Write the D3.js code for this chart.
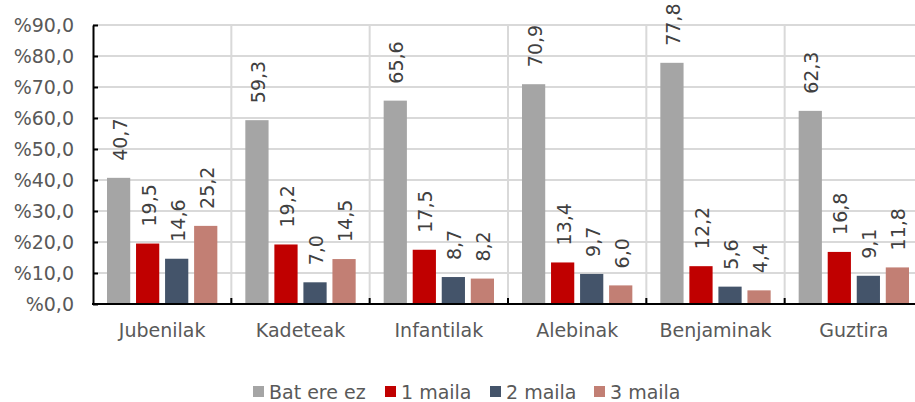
<!DOCTYPE html>
<html>
<head>
<meta charset="utf-8">
<script src="https://cdn.jsdelivr.net/npm/d3@7"></script>
<style>
  body { margin: 0; background: #fff; }
  svg { display: block; font-family: "DejaVu Sans", Verdana, sans-serif; }
</style>
</head>
<body>
<div id="chart"></div>
<script>
var categories = ["Jubenilak", "Kadeteak", "Infantilak", "Alebinak", "Benjaminak", "Guztira"];
var seriesNames = ["Bat ere ez", "1 maila", "2 maila", "3 maila"];
var batEreEz = [40.7, 59.3, 65.6, 70.9, 77.8, 62.3];
var maila1 = [19.5, 19.2, 17.5, 13.4, 12.2, 16.8];
var maila2 = [14.6, 7.0, 8.7, 9.7, 5.6, 9.1];
var maila3 = [25.2, 14.5, 8.2, 6.0, 4.4, 11.8];
var yTicks = [0, 10, 20, 30, 40, 50, 60, 70, 80, 90];
var colors = ["#A5A5A5", "#C00000", "#44546A", "#C27F74"];

var width = 915, height = 402;
var plotLeft = 93, plotRight = 923, plotTop = 25, plotBottom = 304;

var svg = d3.select("#chart").append("svg")
  .attr("width", width)
  .attr("height", height);

var allSeries = [batEreEz, maila1, maila2, maila3];
var rows = categories.map(function(c, i){
  return { cat: c, vals: allSeries.map(function(s, j){ return { key: seriesNames[j], v: s[i], idx: j }; }) };
});

var x0 = d3.scaleBand().domain(categories).range([plotLeft, plotRight]).padding(0);
var x1 = d3.scaleBand().domain(seriesNames).range([14, x0.bandwidth() - 14]).paddingInner(0.2);
var y = d3.scaleLinear().domain([0, 90]).range([plotBottom, plotTop]);

var fmt = function(v){ return v.toFixed(1).replace(".", ","); };

// grid
svg.append("g").selectAll("line")
  .data(yTicks.slice(1))
  .enter().append("line")
  .attr("x1", plotLeft).attr("x2", plotRight)
  .attr("y1", function(d){ return y(d); }).attr("y2", function(d){ return y(d); })
  .attr("stroke", "#D9D9D9").attr("stroke-width", 2);

svg.append("g").selectAll("line")
  .data(categories.slice(1))
  .enter().append("line")
  .attr("x1", function(d){ return x0(d); }).attr("x2", function(d){ return x0(d); })
  .attr("y1", plotTop).attr("y2", plotBottom)
  .attr("stroke", "#D9D9D9").attr("stroke-width", 2);

// bars
var groups = svg.append("g").selectAll("g")
  .data(rows)
  .enter().append("g")
  .attr("transform", function(d){ return "translate(" + x0(d.cat) + ",0)"; });

groups.selectAll("rect")
  .data(function(d){ return d.vals; })
  .enter().append("rect")
  .attr("x", function(d){ return x1(d.key); })
  .attr("width", x1.bandwidth())
  .attr("y", function(d){ return y(d.v); })
  .attr("height", function(d){ return plotBottom - y(d.v); })
  .attr("fill", function(d){ return colors[d.idx]; });

groups.selectAll("text")
  .data(function(d){ return d.vals; })
  .enter().append("text")
  .attr("transform", function(d){
    return "translate(" + (x1(d.key) + x1.bandwidth() / 2 + 1) + "," + (y(d.v) - 17) + ") rotate(-90)";
  })
  .attr("dominant-baseline", "central")
  .attr("fill", "#404040")
  .style("font-size", "19px")
  .text(function(d){ return fmt(d.v); });

// axes
var yAxis = d3.axisLeft(y).tickValues(yTicks).tickSizeInner(-5).tickSizeOuter(0).tickPadding(19)
  .tickFormat(function(d){ return "%" + fmt(d); });
var yg = svg.append("g").attr("transform", "translate(" + plotLeft + ",0)").call(yAxis);
yg.select(".domain").attr("stroke", "#000").attr("stroke-width", 2);
yg.selectAll(".tick line").attr("stroke", "#000").attr("stroke-width", 2);
yg.selectAll(".tick text").attr("fill", "#595959").style("font-size", "19px").style("font-family", "DejaVu Sans, Verdana, sans-serif");

svg.append("line")
  .attr("x1", plotLeft - 1).attr("x2", plotRight)
  .attr("y1", plotBottom).attr("y2", plotBottom)
  .attr("stroke", "#000").attr("stroke-width", 2);

svg.append("g").selectAll("line")
  .data(categories.slice(1))
  .enter().append("line")
  .attr("x1", function(d){ return x0(d); }).attr("x2", function(d){ return x0(d); })
  .attr("y1", plotBottom).attr("y2", plotBottom - 6)
  .attr("stroke", "#000").attr("stroke-width", 2);

svg.append("g").selectAll("text")
  .data(categories)
  .enter().append("text")
  .attr("x", function(d){ return x0(d) + x0.bandwidth() / 2; })
  .attr("y", 330)
  .attr("text-anchor", "middle")
  .attr("dominant-baseline", "central")
  .attr("fill", "#595959")
  .style("font-size", "19px")
  .text(function(d){ return d; });

// legend
var legendX = [253, 385, 490, 594];
var legend = svg.append("g").selectAll("g")
  .data(seriesNames)
  .enter().append("g")
  .attr("transform", function(d, i){ return "translate(" + legendX[i] + ",392)"; });

legend.append("rect")
  .attr("x", 0).attr("y", -6)
  .attr("width", 11).attr("height", 11)
  .attr("fill", function(d, i){ return colors[i]; });

legend.append("text")
  .attr("x", 16).attr("y", 0)
  .attr("dominant-baseline", "central")
  .attr("fill", "#595959")
  .style("font-size", "19px")
  .text(function(d){ return d; });
</script>
</body>
</html>
